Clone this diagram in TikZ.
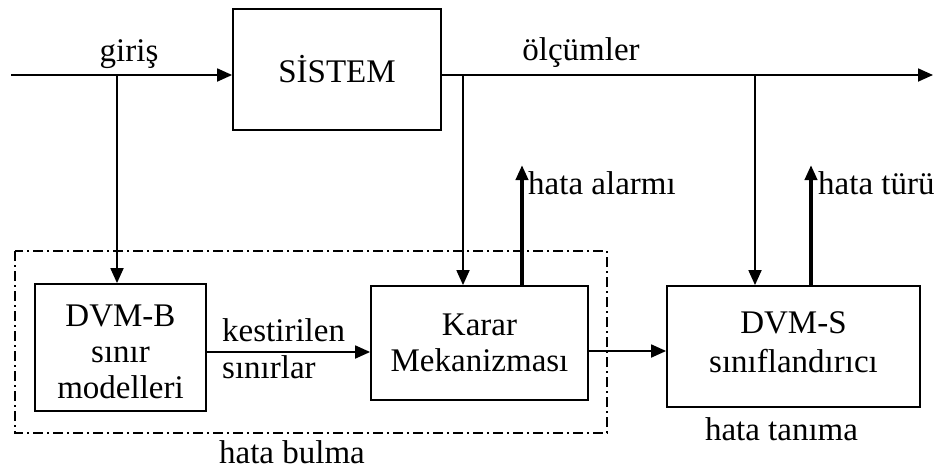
\documentclass[tikz,border=0pt]{standalone}
\usepackage{fontspec}
\setmainfont{Liberation Serif}
\usetikzlibrary{arrows.meta}
\begin{document}
\begin{tikzpicture}[x=1pt,y=-1pt,
  font=\fontsize{33}{36}\selectfont,
  blk/.style={draw,line width=1.8pt,inner sep=0pt,align=center},
  lbl/.style={inner sep=0pt},
  sig/.style={line width=1.8pt,-{Triangle[length=15pt,width=13pt]}},
  outsig/.style={line width=3.8pt,-{Triangle[length=15pt,width=12pt]}},
  grp/.style={line width=1.4pt,dash pattern=on 10pt off 4pt on 2pt off 4pt}]
\useasboundingbox (0,0) rectangle (942,471);

% blocks
\node[blk,minimum width=208pt,minimum height=121pt] (sys) at (337,69.5) {SİSTEM};
\node[blk,minimum width=171pt,minimum height=127pt] (dvmb) at (120.5,347.5)
  {\rule{0pt}{31pt}DVM-B\\ sınır\\ modelleri};
\node[blk,minimum width=217pt,minimum height=114pt] (karar) at (479.5,343)
  {Karar\\ Mekanizması};
\node[blk,minimum width=253pt,minimum height=121pt] (dvms) at (793.5,346.5)
  {DVM-S\\[3pt] sınıflandırıcı\rule[-9pt]{0pt}{0pt}};

% fault detection group
\draw[grp] (15,251) rectangle (607,433);

% signal points
\coordinate (src) at (11,75);
\coordinate (tapin) at (117,75);
\coordinate (tapa) at (463,75);
\coordinate (tapb) at (755,75);
\coordinate (dst) at (933,75);
\coordinate (alarm) at (522,165);
\coordinate (kind) at (811,165);

% connectors
\draw[sig] (src) -- (src -| sys.west);
\draw[sig] (sys.east |- src) -- (dst);
\draw[sig] (tapin) -- (tapin |- dvmb.north);
\draw[sig] (tapa) -- (tapa |- karar.north);
\draw[sig] (tapb) -- (tapb |- dvms.north);
\draw[outsig] (alarm |- karar.north) -- (alarm);
\draw[outsig] (kind |- dvms.north) -- (kind);
\draw[sig] (dvmb.east |- 0,352) -- (karar.west |- 0,352);
\draw[sig] (karar.east |- 0,351) -- (dvms.west |- 0,351);

% labels
\node[lbl,anchor=base] (lgiris) at (129,61) {giriş};
\node[lbl,anchor=base] (lolcum) at (581,60) {ölçümler};
\node[lbl,anchor=base west] (lalarm) at (528,194) {hata alarmı};
\node[lbl,anchor=base west] (ltur) at (818,194) {hata türü};
\node[lbl,anchor=base west] (lkest) at (222,341) {kestirilen};
\node[lbl,anchor=base west] (lsinir) at (222,378) {sınırlar};
\node[lbl,anchor=base] (ltanima) at (781.5,440) {hata tanıma};
\node[lbl,anchor=base] (lbulma) at (292,463) {hata bulma};
\end{tikzpicture}
\end{document}
